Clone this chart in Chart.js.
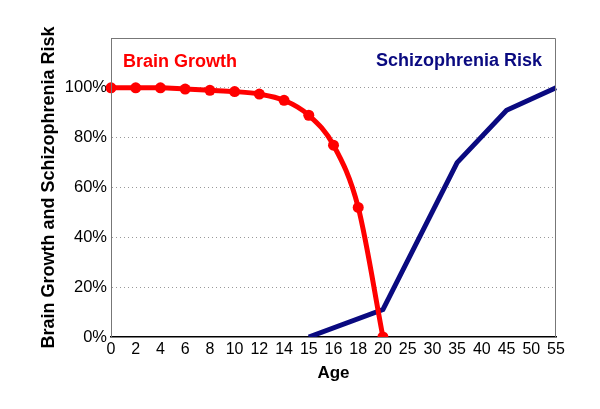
<!DOCTYPE html>
<html>
<head>
<meta charset="utf-8">
<script src="https://cdn.jsdelivr.net/npm/chart.js@4/dist/chart.umd.min.js"></script>
<style>
  html, body { margin: 0; padding: 0; background: #fff; }
</style>
</head>
<body>
<canvas id="chart_brain_risk" width="600" height="409"></canvas>
<script>
const ageLabels = ['0', '2', '4', '6', '8', '10', '12', '14', '15', '16', '18', '20', '25', '30', '35', '40', '45', '50', '55'];
const brainGrowth = [100, 100, 100, 99.5, 99, 98.5, 97.5, 95, 89, 77, 52, 0, null, null, null, null, null, null, null];
const schizoRisk = [null, null, null, null, null, null, null, null, 0, null, null, 11, null, null, 70, null, 91, null, 100];
const yTicks = [0, 20, 40, 60, 80, 100];

const FONT = "'Liberation Sans', Arial, Helvetica, sans-serif";

// frame round the plot plus the two series captions
const framePlugin = {
  id: 'frame',
  afterDraw(chart) {
    let { ctx, chartArea: a } = chart;
    ctx.save();
    ctx.strokeStyle = '#777';
    ctx.lineWidth = 1;
    ctx.beginPath();
    ctx.moveTo(a.left + 0.5, a.bottom);
    ctx.lineTo(a.left + 0.5, a.top + 0.5);
    ctx.lineTo(a.right - 0.5, a.top + 0.5);
    ctx.lineTo(a.right - 0.5, a.bottom);
    ctx.stroke();

    ctx.font = 'bold 18px ' + FONT;
    ctx.textBaseline = 'alphabetic';
    ctx.textAlign = 'left';
    ctx.fillStyle = '#ff0000';
    ctx.fillText('Brain Growth', 123, 67);
    ctx.fillStyle = '#0a0a80';
    ctx.fillText('Schizophrenia Risk', 376, 66);
    ctx.restore();
  }
};

let data = {
  labels: ageLabels,
  datasets: [
    {
      label: 'Brain Growth',
      data: brainGrowth,
      borderColor: '#ff0000',
      backgroundColor: '#ff0000',
      borderWidth: 5,
      pointRadius: 5.5,
      pointHoverRadius: 5.5,
      pointBorderWidth: 0,
      cubicInterpolationMode: 'monotone',
      spanGaps: false
    },
    {
      label: 'Schizophrenia Risk',
      data: schizoRisk,
      borderColor: '#0a0a80',
      backgroundColor: '#0a0a80',
      borderWidth: 5,
      pointRadius: 0,
      tension: 0,
      spanGaps: true
    }
  ]
};

let options = {
  responsive: false,
  animation: false,
  layout: { padding: { left: 38, right: 44, top: 38, bottom: 25 } },
  plugins: {
    legend: { display: false },
    tooltip: { enabled: false }
  },
  scales: {
    x: {
      offset: false,
      grid: { display: false, drawTicks: false },
      border: { color: '#000', width: 1.5 },
      ticks: { color: '#000', font: { family: FONT, size: 16 }, padding: 3, maxRotation: 0, autoSkip: false },
      title: { display: true, text: 'Age', color: '#000', font: { family: FONT, size: 17, weight: 'bold' }, padding: { top: 0, bottom: 0 } },
      afterFit(scale) { scale.height = 47; }
    },
    y: {
      min: 0,
      max: 120,
      afterBuildTicks(scale) { scale.ticks = [0, 20, 40, 60, 80, 100, 120].map(v => ({ value: v })); },
      grid: {
        drawTicks: false,
        color: ctx => (ctx.tick && (ctx.tick.value === 0 || ctx.tick.value === 120)) ? 'rgba(0,0,0,0)' : '#999',
        lineWidth: 1
      },
      border: { color: '#777', dash: [1, 3], display: true },
      ticks: {
        color: '#000',
        font: { family: FONT, size: 16.5 },
        padding: 4,
        callback: v => yTicks.includes(v) ? v + '%' : ''
      },
      title: { display: true, text: 'Brain Growth and Schizophrenia Risk', color: '#000', font: { family: FONT, size: 18, weight: 'bold' }, padding: { top: 0, bottom: 4 } },
      afterFit(scale) { scale.width = 73; }
    }
  }
};

new Chart('chart_brain_risk', { type: 'line', plugins: [framePlugin], data, options });
</script>
</body>
</html>
